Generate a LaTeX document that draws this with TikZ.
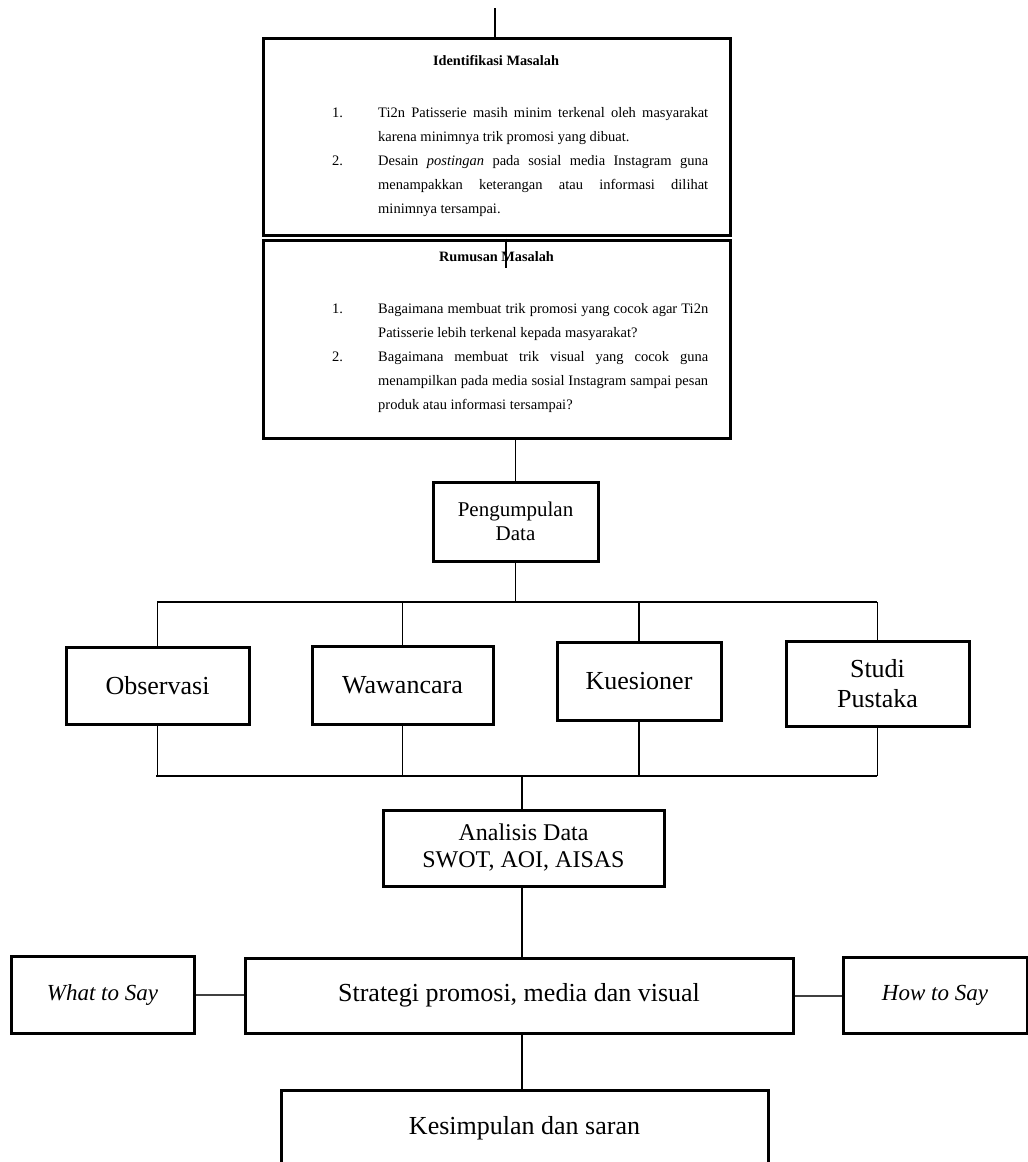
\documentclass[tikz,border=0pt]{standalone}
\usepackage{fontspec}
\setmainfont{Liberation Serif}
\begin{document}
\begin{tikzpicture}[x=1pt,y=-1pt,
  box/.style={draw, line width=3pt, inner sep=0pt, align=center},
  conn/.style={line width=1.2pt},
  side/.style={line width=2pt, draw=black!75},
  item/.style={anchor=base west, inner sep=0pt, font=\fontsize{14.5}{24}\selectfont},
  ttl/.style={anchor=base, inner sep=0pt, font=\bfseries\fontsize{14.3}{17}\selectfont},
  big/.style={font=\fontsize{26}{30}\selectfont}]
\clip (0,0) rectangle (1028,1162);

% upper boxes
\node[box, minimum width=467pt, minimum height=197pt] (idm) at (496.5,136.5) {};
\node[box, minimum width=467pt, minimum height=198pt] (rm) at (496.5,339) {};

\node[ttl] (idmt) at (496,65) {Identifikasi Masalah};
\node[item] (n11) at (332,117) {1.};
\node[item] (t11) at (378,117) {\parbox[t]{330pt}{Ti2n Patisserie masih minim terkenal oleh masyarakat\linebreak karena minimnya trik promosi yang dibuat.}};
\node[item] (n12) at (332,165) {2.};
\node[item] (t12) at (378,165) {\parbox[t]{330pt}{Desain \textit{postingan} pada sosial media Instagram guna\linebreak menampakkan keterangan atau informasi dilihat\linebreak minimnya tersampai.}};

\node[ttl] (rmt) at (496.5,261) {Rumusan Masalah};
\node[item] (n21) at (332,313) {1.};
\node[item] (t21) at (378,313) {\parbox[t]{330pt}{Bagaimana membuat trik promosi yang cocok agar Ti2n\linebreak Patisserie lebih terkenal kepada masyarakat?}};
\node[item] (n22) at (332,361) {2.};
\node[item] (t22) at (378,361) {\parbox[t]{330pt}{Bagaimana membuat trik visual yang cocok guna\linebreak menampilkan pada media sosial Instagram sampai pesan\linebreak produk atau informasi tersampai?}};

% middle boxes
\node[box, minimum width=165pt, minimum height=79pt, font=\fontsize{21}{24}\selectfont] (pd) at (515.5,521.5) {Pengumpulan\\Data};
\node[box, big, minimum width=183pt, minimum height=77pt] (obs) at (157.5,685.5) {Observasi};
\node[box, big, minimum width=181pt, minimum height=78pt] (waw) at (402.5,685) {Wawancara};
\node[box, big, minimum width=164pt, minimum height=78pt] (kue) at (639,681) {Kuesioner};
\node[box, big, minimum width=183pt, minimum height=85pt] (stu) at (877.5,683.5) {Studi\\Pustaka};
\node[box, minimum width=281pt, minimum height=76pt, font=\fontsize{24}{27}\selectfont] (ana) at (523.5,848) {Analisis Data\\SWOT, AOI, AISAS};

% lower boxes
\node[box, big, minimum width=548pt, minimum height=75pt] (str) at (519,995.5) {Strategi promosi, media dan visual};
\node[box, minimum width=183pt, minimum height=77pt, font=\itshape\fontsize{23}{27}\selectfont] (what) at (102.5,994.5) {What to Say};
\node[box, minimum width=184pt, minimum height=76pt, font=\itshape\fontsize{23}{27}\selectfont] (how) at (935,995) {How to Say};
\node[box, big, minimum width=487pt, minimum height=76pt] (kes) at (524.5,1128) {Kesimpulan dan saran};

% connectors
\coordinate (topstart) at (495,8);
\draw[conn] (topstart) -- (topstart |- idm.north);
\coordinate (art) at (506,268);
\draw[conn] (art |- rm.north) -- (art);
\draw[conn] (rm.south -| pd.north) -- (pd.north);

\coordinate (busTL) at (157,602);
\coordinate (busTR) at (877,602);
\draw[conn] (pd.south) -- (pd.south |- busTL);
\draw[conn] (busTL) -- (busTR);
\foreach \n in {obs,waw,kue,stu} \draw[conn] (\n.north |- busTL) -- (\n.north);

\coordinate (busBL) at (156,776);
\coordinate (busBR) at (877,776);
\foreach \n in {obs,waw,kue,stu} \draw[conn] (\n.south) -- (\n.south |- busBL);
\draw[conn] (busBL) -- (busBR);
\coordinate (jB) at (522,776);
\draw[conn] (jB) -- (jB |- ana.north);
\draw[conn] (ana.south -| jB) -- (str.north -| jB);
\draw[conn] (str.south -| jB) -- (kes.north -| jB);

\draw[side] (what.east) -- (what.east -| str.west);
\draw[side] (str.east) -- (str.east -| how.west);
\end{tikzpicture}
\end{document}
